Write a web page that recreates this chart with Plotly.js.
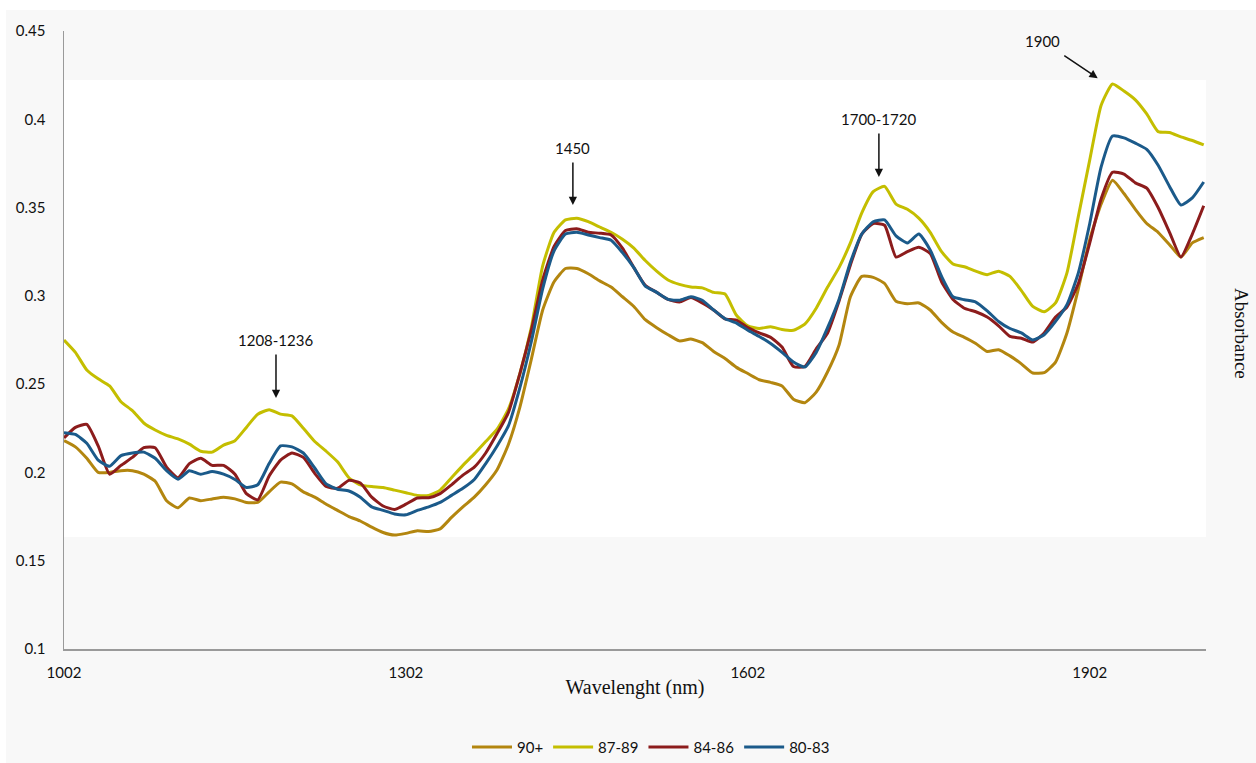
<!DOCTYPE html>
<html>
<head>
<meta charset="utf-8">
<script src="https://cdn.plot.ly/plotly-3.0.1.min.js"></script>
<style>
  html, body { margin: 0; padding: 0; background: #f8f8f8; }
  #chart { width: 1256px; height: 763px; }
</style>
</head>
<body>
<div id="chart"></div>
<script>
// Wavelength grid (nm)
const wavelength = [];
for (let w = 1002; w <= 2002; w += 10) wavelength.push(w);

const seriesNames = ["90+", "87-89", "84-86", "80-83"];
const xTickValues = [1002, 1302, 1602, 1902];

const abs90plus = [
  0.218, 0.2145, 0.208, 0.200, 0.200, 0.201, 0.201, 0.199, 0.195, 0.184,
  0.180, 0.1855, 0.184, 0.185, 0.186, 0.185, 0.183, 0.183, 0.189, 0.1945,
  0.1935, 0.189, 0.186, 0.182, 0.1785, 0.175, 0.1725, 0.169, 0.166, 0.1645,
  0.1655, 0.167, 0.1665, 0.168, 0.1745, 0.1805, 0.186, 0.193, 0.2015, 0.216,
  0.237, 0.264, 0.292, 0.308, 0.3155, 0.3155, 0.3125, 0.3085, 0.305, 0.2995,
  0.294, 0.2865, 0.282, 0.278, 0.2745, 0.2755, 0.2735, 0.2685, 0.2645, 0.2595,
  0.256, 0.2525, 0.251, 0.249, 0.2415, 0.2395, 0.2455, 0.257, 0.272, 0.2995,
  0.311, 0.3105, 0.307, 0.297, 0.2955, 0.296, 0.292, 0.285, 0.2795, 0.2765,
  0.273, 0.2685, 0.2695, 0.266, 0.2615, 0.2563, 0.2565, 0.2625, 0.279, 0.304,
  0.332, 0.352, 0.3655, 0.358, 0.349, 0.341, 0.336, 0.329, 0.322, 0.330,
  0.333
];

const abs87to89 = [
  0.275, 0.268, 0.258, 0.253, 0.249, 0.240, 0.235, 0.228, 0.224, 0.221,
  0.219, 0.216, 0.212, 0.2115, 0.2155, 0.218, 0.2255, 0.233, 0.2355, 0.233,
  0.232, 0.225, 0.2175, 0.212, 0.206, 0.197, 0.193, 0.192, 0.1915, 0.190,
  0.1885, 0.187, 0.187, 0.190, 0.197, 0.204, 0.2105, 0.2175, 0.2245, 0.236,
  0.256, 0.282, 0.317, 0.336, 0.343, 0.344, 0.342, 0.339, 0.336, 0.332,
  0.327, 0.320, 0.314, 0.309, 0.3065, 0.305, 0.3045, 0.302, 0.301, 0.289,
  0.283, 0.2815, 0.2825, 0.281, 0.2805, 0.284, 0.293, 0.305, 0.316, 0.330,
  0.347, 0.359, 0.362, 0.352, 0.349, 0.344, 0.336, 0.325, 0.318, 0.3165,
  0.314, 0.312, 0.314, 0.311, 0.303, 0.294, 0.291, 0.296, 0.313, 0.345,
  0.377, 0.408, 0.420, 0.416, 0.411, 0.403, 0.393, 0.3925, 0.390, 0.388,
  0.3855
];

const abs84to86 = [
  0.2195, 0.2255, 0.2272, 0.215, 0.199, 0.204, 0.2085, 0.214, 0.214, 0.203,
  0.197, 0.205, 0.208, 0.204, 0.204, 0.199, 0.188, 0.1845, 0.198, 0.207,
  0.211, 0.2085, 0.1995, 0.192, 0.191, 0.1955, 0.194, 0.186, 0.181, 0.179,
  0.182, 0.1855, 0.1857, 0.188, 0.193, 0.1985, 0.203, 0.211, 0.222, 0.234,
  0.256, 0.2805, 0.309, 0.328, 0.337, 0.338, 0.336, 0.3355, 0.3345, 0.327,
  0.316, 0.306, 0.302, 0.298, 0.2965, 0.299, 0.296, 0.292, 0.287, 0.2863,
  0.282, 0.279, 0.2765, 0.271, 0.260, 0.260, 0.270, 0.279, 0.297, 0.3175,
  0.335, 0.341, 0.340, 0.322, 0.325, 0.3275, 0.324, 0.308, 0.298, 0.293,
  0.291, 0.288, 0.283, 0.277, 0.276, 0.2738, 0.279, 0.288, 0.2937, 0.307,
  0.330, 0.355, 0.370, 0.369, 0.364, 0.361, 0.350, 0.336, 0.322, 0.335,
  0.351
];

const abs80to83 = [
  0.2225, 0.2215, 0.2165, 0.207, 0.2035, 0.2095, 0.211, 0.2115, 0.208, 0.201,
  0.1962, 0.201, 0.199, 0.2005, 0.199, 0.196, 0.1915, 0.193, 0.205, 0.215,
  0.2145, 0.211, 0.2025, 0.1935, 0.1905, 0.1895, 0.186, 0.1805, 0.1785, 0.1765,
  0.176, 0.1785, 0.1805, 0.183, 0.187, 0.191, 0.196, 0.205, 0.215, 0.2265,
  0.248, 0.274, 0.304, 0.3255, 0.335, 0.336, 0.3345, 0.333, 0.3315, 0.3245,
  0.316, 0.3055, 0.302, 0.298, 0.2975, 0.2995, 0.2975, 0.292, 0.287, 0.2846,
  0.2805, 0.277, 0.273, 0.268, 0.2625, 0.2597, 0.268, 0.282, 0.298, 0.319,
  0.335, 0.342, 0.343, 0.334, 0.330, 0.335, 0.326, 0.311, 0.2995, 0.2978,
  0.2965, 0.2915, 0.2855, 0.2815, 0.279, 0.275, 0.278, 0.2855, 0.295, 0.313,
  0.341, 0.373, 0.3905, 0.3895, 0.3865, 0.383, 0.374, 0.362, 0.3515, 0.3555,
  0.3645
];

const peakLabels = ["1208-1236", "1450", "1700-1720", "1900"];
const peakArrowX = [1188, 1448.5, 1717, 1909];
const peakArrowY = [0.2421, 0.3514, 0.3673, 0.4233];

const colors = ["#b3860f", "#c4be00", "#8c1c1c", "#1b5a8a"];
const values = [abs90plus, abs87to89, abs84to86, abs80to83];

const traces = values.map((v, i) => ({
  x: wavelength,
  y: v,
  name: seriesNames[i],
  type: "scatter",
  mode: "lines",
  line: { color: colors[i], width: 3, shape: "spline", smoothing: 0.5 }
}));

const arrowOffsets = [[0, -58], [0, -57], [0, -58], [-55, -37]];
const annotations = peakLabels.map((t, i) => ({
  x: peakArrowX[i], y: peakArrowY[i], xref: "x", yref: "y",
  text: t, showarrow: true,
  ax: arrowOffsets[i][0], ay: arrowOffsets[i][1],
  arrowhead: 2, arrowsize: 1.1, arrowwidth: 1.5, arrowcolor: "#111",
  borderpad: 5,
  font: { family: "Lato, 'Open Sans', sans-serif", size: 15, color: "#111" }
}));
annotations.push({
  xref: "paper", yref: "paper",
  x: (1242 - 64) / 1142, y: (649 - 333) / 618,
  xanchor: "center", yanchor: "middle",
  text: "Absorbance", showarrow: false, textangle: 90,
  font: { family: "'Liberation Serif', 'Times New Roman', serif", size: 19, color: "#111" }
});

const layout = {
  width: 1256, height: 763,
  margin: { l: 64, r: 50, t: 31, b: 114, autoexpand: false },
  paper_bgcolor: "#f8f8f8",
  plot_bgcolor: "rgba(0,0,0,0)",
  showlegend: true,
  legend: {
    orientation: "h", x: 0.514, xanchor: "center", y: -0.159, yanchor: "middle",
    font: { family: "Lato, 'Open Sans', sans-serif", size: 15, color: "#111" },
    bgcolor: "rgba(0,0,0,0)", itemwidth: 40, traceorder: "normal"
  },
  xaxis: {
    range: [1002, 2004],
    tickvals: xTickValues,
    ticktext: xTickValues.map(String),
    showgrid: false, zeroline: false, automargin: false,
    showline: true, linecolor: "#9a9a9a", linewidth: 1.5,
    ticks: "", ticklabelstandoff: 9,
    tickfont: { family: "Lato, 'Open Sans', sans-serif", size: 15, color: "#111" },
    title: {
      text: "Wavelenght (nm)", standoff: 0,
      font: { family: "'Liberation Serif', 'Times New Roman', serif", size: 20, color: "#111" }
    }
  },
  yaxis: {
    range: [0.1, 0.45], tick0: 0.1, dtick: 0.05,
    showgrid: false, zeroline: false, automargin: false,
    showline: true, linecolor: "#9a9a9a", linewidth: 1.5,
    ticks: "", ticklabelstandoff: 14,
    tickfont: { family: "Lato, 'Open Sans', sans-serif", size: 15, color: "#111" }
  },
  shapes: [
    { type: "rect", layer: "below", xref: "x", yref: "y",
      x0: 1002, x1: 2004, y0: 0.1634, y1: 0.4222,
      fillcolor: "#ffffff", line: { width: 0 } },
    { type: "rect", layer: "below", xref: "paper", yref: "paper",
      x0: -0.06, x1: 1.05, y0: (649 - 10) / 618, y1: 1.06,
      fillcolor: "#ffffff", line: { width: 0 } },
    { type: "rect", layer: "below", xref: "paper", yref: "paper",
      x0: -0.06, x1: (6 - 64) / 1142, y0: -0.2, y1: 1.06,
      fillcolor: "#ffffff", line: { width: 0 } }
  ],
  annotations: annotations
};

Plotly.newPlot("chart", traces, layout, { displayModeBar: false, staticPlot: true });
</script>
</body>
</html>
